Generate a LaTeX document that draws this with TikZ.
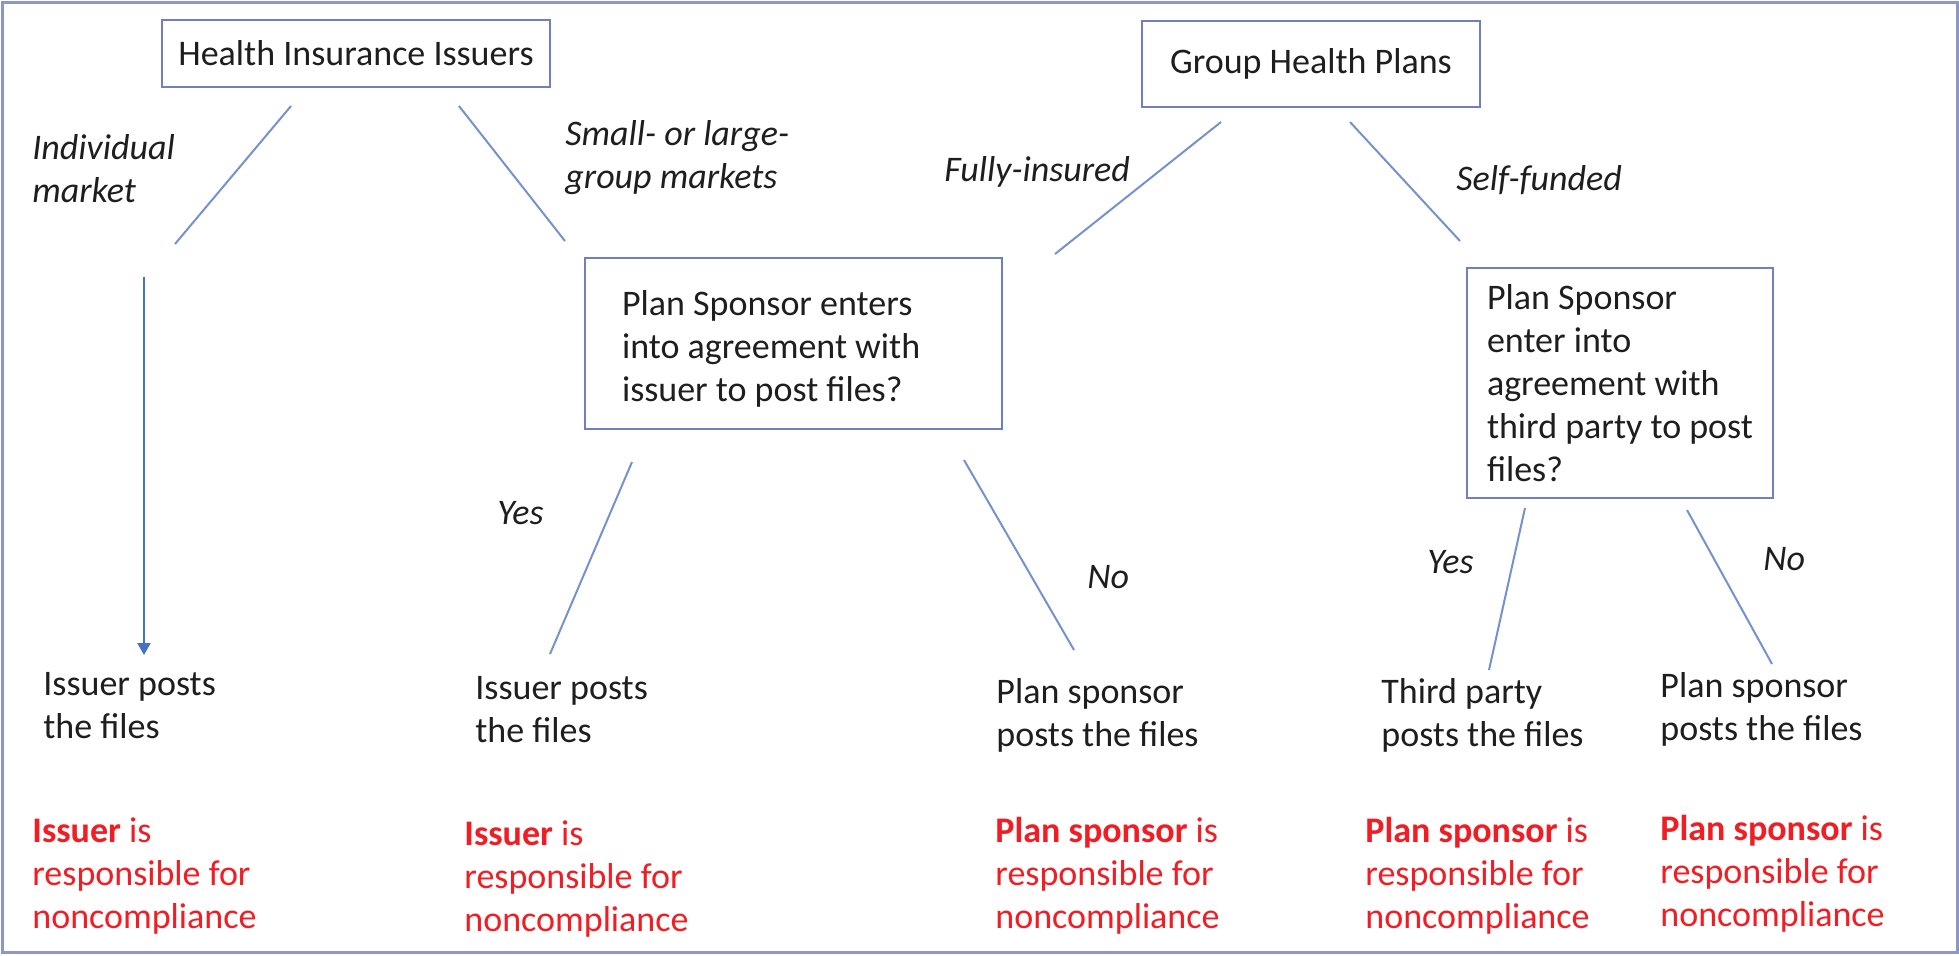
\documentclass[tikz,border=0pt]{standalone}
\usepackage{fontspec}
\setmainfont{Carlito}
\usetikzlibrary{arrows.meta}

\definecolor{framegray}{RGB}{141,150,196}
\definecolor{boxblue}{RGB}{112,128,190}
\definecolor{branchblue}{RGB}{118,146,204}
\definecolor{arrowblue}{RGB}{68,114,196}
\definecolor{ink}{RGB}{30,30,30}
\definecolor{liablered}{RGB}{240,30,36}

\begin{document}
\begin{tikzpicture}[x=0.5pt,y=-0.5pt,
    font=\fontsize{18}{21.5}\selectfont,
    >={Triangle[length=6pt,width=6.5pt]},
    every node/.style={text=ink},
    heading/.style={draw=boxblue,line width=1pt,inner sep=0pt},
    question/.style={draw=boxblue,line width=1pt,align=flush left,inner ysep=0pt},
    branch/.style={font=\fontsize{18}{21.5}\selectfont\itshape,
      anchor=base west,align=left,inner sep=0pt},
    outcome/.style={anchor=base west,align=left,inner sep=0pt},
    liable/.style={outcome,text=liablered},
    link/.style={branchblue,line width=1pt}]
    \useasboundingbox (0,0) rectangle (1959,955);
    \draw[framegray,line width=1.5pt] (2,2) rectangle (1957,952);

    % the two kinds of coverage
    \node[heading,minimum width=194pt,minimum height=33.5pt] (hii) at (356,53.5)
      {Health Insurance Issuers};
    \node[heading,minimum width=169pt,minimum height=43pt] (ghp) at (1311,64)
      {Group Health Plans};

    % who posts: the two questions
    \node[question,text width=171.5pt,inner xsep=18.5pt,minimum height=85.5pt,
      text height=17.5pt]
      (issueragree) at (793.5,343.5)
      {Plan Sponsor enters\\into agreement with\\issuer to post files?};
    \node[question,minimum width=153pt,minimum height=115pt,inner xsep=0pt]
      (thirdagree) at (1620,383)
      {Plan Sponsor\\enter into\\agreement with\\third party to post\\files?};

    % branch labels (base = last line)
    \node[branch] (individual) at (32,202) {Individual\\market};
    \node[branch] (groupmkt) at (565,188) {Small- or large-\\group markets};
    \node[branch] (insured) at (944,181) {Fully-insured};
    \node[branch] (selffunded) at (1456,190) {Self-funded};
    \node[branch] (yesissuer) at (497,524) {Yes};
    \node[branch] (noissuer) at (1087,588) {No};
    \node[branch] (yesthird) at (1427,573) {Yes};
    \node[branch] (nothird) at (1763,570) {No};

    % who posts the files
    \node[outcome] (postsindiv) at (43,738) {Issuer posts\\the files};
    \node[outcome] (postsgroup) at (475,742) {Issuer posts\\the files};
    \node[outcome] (postssponsor) at (996,746) {Plan sponsor\\posts the files};
    \node[outcome] (poststhird) at (1381,746) {Third party\\posts the files};
    \node[outcome] (postsself) at (1660,740) {Plan sponsor\\posts the files};

    % who is liable
    \node[liable] (liableindiv) at (32,928)
      {\textbf{Issuer} is\\responsible for\\noncompliance};
    \node[liable] (liablegroup) at (464,931)
      {\textbf{Issuer} is\\responsible for\\noncompliance};
    \node[liable] (liablesponsor) at (995,928)
      {\textbf{Plan sponsor} is\\responsible for\\noncompliance};
    \node[liable] (liablethird) at (1365,928)
      {\textbf{Plan sponsor} is\\responsible for\\noncompliance};
    \node[liable] (liableself) at (1660,926)
      {\textbf{Plan sponsor} is\\responsible for\\noncompliance};

    % loose ends of the branch lines
    \coordinate (indiv-a) at (291,106);   \coordinate (indiv-b) at (175,244);
    \coordinate (group-a) at (459,106);   \coordinate (group-b) at (565,241);
    \coordinate (down-a) at (144,277);    \coordinate (down-b) at (144,655);
    \coordinate (insured-a) at (1221,122); \coordinate (insured-b) at (1055,254);
    \coordinate (self-a) at (1350,122);   \coordinate (self-b) at (1460,241);
    \coordinate (iyes-a) at (632,462);    \coordinate (iyes-b) at (550,654);
    \coordinate (ino-a) at (964,460);     \coordinate (ino-b) at (1074,650);
    \coordinate (tyes-a) at (1525,508);   \coordinate (tyes-b) at (1489,670);
    \coordinate (tno-a) at (1687,510);    \coordinate (tno-b) at (1772,664);

    \draw[link] (indiv-a) -- (indiv-b);
    \draw[link] (group-a) -- (group-b);
    \draw[->,arrowblue,line width=1pt] (down-a) -- (down-b);
    \draw[link] (insured-a) -- (insured-b);
    \draw[link] (self-a) -- (self-b);
    \draw[link] (iyes-a) -- (iyes-b);
    \draw[link] (ino-a) -- (ino-b);
    \draw[link] (tyes-a) -- (tyes-b);
    \draw[link] (tno-a) -- (tno-b);
  \end{tikzpicture}
\end{document}
